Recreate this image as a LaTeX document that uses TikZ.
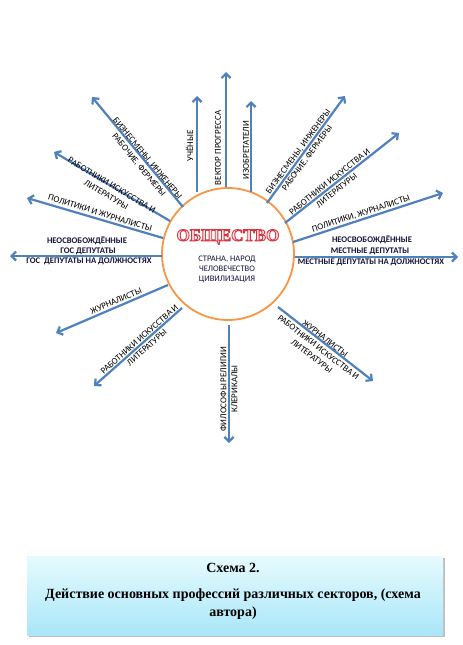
\documentclass[tikz,border=0pt]{standalone}
\usepackage{fontspec}
\setmainfont{Liberation Serif}
\newfontfamily\lblfam{Carlito}
\usetikzlibrary{arrows.meta}
\definecolor{arrblue}{HTML}{4F81BD}
\definecolor{ringorange}{HTML}{F79646}
\definecolor{societyred}{HTML}{D9343F}
\definecolor{navytext}{HTML}{14143C}
\definecolor{captop}{HTML}{E6FBFE}
\definecolor{capbot}{HTML}{A9E6F8}
\definecolor{softpink}{HTML}{FBE4E6}
\newcommand{\outlinedword}[1]{\special{pdf:literal direct 2 Tr 0.9 w 0.851 0.204 0.247 RG}#1\special{pdf:literal direct 0 Tr}}
\tikzset{
  arr/.style={draw=arrblue, line width=2.2pt, -{Straight Barb[length=4.5pt,width=9pt]}},
  lbl/.style={font=\lblfam\fontsize{9}{11}\selectfont, align=center, inner sep=0pt, text=black},
  hlbl/.style={font=\lblfam\bfseries\fontsize{8.6}{10}\selectfont, inner sep=0pt, text=navytext},
  ctext/.style={font=\lblfam\fontsize{8.5}{10}\selectfont, inner sep=0pt, text=navytext},
  captext/.style={font=\bfseries\fontsize{14}{16}\selectfont, inner sep=0pt, text=black}
}
\begin{document}
\begin{tikzpicture}[x=1pt,y=-1pt]
\useasboundingbox[fill=white] (0,0) rectangle (463,645);

% central circle
\node[circle, draw=ringorange, line width=1.8pt, fill=white, minimum size=132pt, inner sep=0pt] (soc) at (228,254) {};
\node[font=\bfseries\fontsize{17}{17}\selectfont, text=softpink, inner sep=0pt] (soct) at (228,237) {\outlinedword{ОБЩЕСТВО}};
\node[ctext] (c1) at (227,259) {СТРАНА, НАРОД};
\node[ctext] (c2) at (227,269) {ЧЕЛОВЕЧЕСТВО};
\node[ctext] (c3) at (227,279) {ЦИВИЛИЗАЦИЯ};

% arrow endpoints
\coordinate (s1) at (183,207);  \coordinate (t1) at (92,97);
\coordinate (s2) at (197,192);  \coordinate (t2) at (197,96);
\coordinate (s3) at (226,187);  \coordinate (t3) at (226,72);
\coordinate (s4) at (251,192);  \coordinate (t4) at (251,101);
\coordinate (s5) at (267,203);  \coordinate (t5) at (345,96);
\coordinate (s6) at (285,223);  \coordinate (t6) at (399,133);
\coordinate (s7) at (293,242);  \coordinate (t7) at (443,193);
\coordinate (s8) at (295,257);  \coordinate (t8) at (458,257);
\coordinate (s9) at (278,307);  \coordinate (t9) at (373,381);
\coordinate (s10) at (229,325); \coordinate (t10) at (229,443);
\coordinate (s11) at (182,308); \coordinate (t11) at (94,386);
\coordinate (s12) at (168,285); \coordinate (t12) at (56,333);
\coordinate (s13) at (162,256); \coordinate (t13) at (10,256);
\coordinate (s14) at (163,238); \coordinate (t14) at (27,198);
\coordinate (s15) at (170,221); \coordinate (t15) at (54,152);

\foreach \i in {1,...,15}{\draw[arr] (s\i) -- (t\i);}

% labels
\node[lbl, rotate=-50.4] (l1) at (143,162) {БИЗНЕСМЕНЫ, ИНЖЕНЕРЫ\\РАБОЧИЕ, ФЕРМЕРЫ};
\node[lbl, rotate=90] (l2) at (189.5,146) {УЧЁНЫЕ};
\node[lbl, rotate=90] (l3) at (218,148) {ВЕКТОР ПРОГРЕССА};
\node[lbl, rotate=90] (l4) at (246,150) {ИЗОБРЕТАТЕЛИ};
\node[lbl, rotate=53.6] (l5) at (303,155) {БИЗНЕСМЕНЫ, ИНЖЕНЕРЫ\\РАБОЧИЕ, ФЕРМЕРЫ};
\node[lbl, rotate=38.5] (l6) at (333,186) {РАБОТНИКИ ИСКУССТВА И\\ЛИТЕРАТУРЫ};
\node[lbl, rotate=18] (l7) at (361,214) {ПОЛИТИКИ, ЖУРНАЛИСТЫ};
\node[hlbl] (l8a) at (372,240) {НЕОСВОБОЖДЁННЫЕ};
\node[hlbl] (l8b) at (370,251) {МЕСТНЫЕ ДЕПУТАТЫ};
\node[hlbl] (l8c) at (371,262) {МЕСТНЫЕ ДЕПУТАТЫ НА ДОЛЖНОСТЯХ};
\node[lbl, rotate=-37.8] (l9) at (318.5,347.5) {ЖУРНАЛИСТЫ\\РАБОТНИКИ ИСКУССТВА И\\ЛИТЕРАТУРЫ};
\node[lbl, rotate=90] (l10) at (229,389) {ФИЛОСОФЫ РЕЛИГИИ\\КЛЕРИКАЛЫ};
\node[lbl, rotate=41.5] (l11) at (143,343.5) {РАБОТНИКИ ИСКУССТВА И\\ЛИТЕРАТУРЫ};
\node[lbl, rotate=23] (l12) at (116,301) {ЖУРНАЛИСТЫ};
\node[hlbl] (l13a) at (87,241) {НЕОСВОБОЖДЁННЫЕ};
\node[hlbl] (l13b) at (88,251) {ГОС ДЕПУТАТЫ};
\node[hlbl] (l13c) at (89,261) {ГОС\ \ ДЕПУТАТЫ НА ДОЛЖНОСТЯХ};
\node[lbl, rotate=-17] (l14) at (100,213) {ПОЛИТИКИ И ЖУРНАЛИСТЫ};
\node[lbl, rotate=-31] (l15) at (109,190) {РАБОТНИКИ ИСКУССТВА И\\ЛИТЕРАТУРЫ};

% caption box
\fill[black!25] (29,558) rectangle (445,637);
\shade[top color=captop, bottom color=capbot] (27,556) rectangle (443,635);
\node[captext] (cap1) at (233,568) {Схема 2.};
\node[captext] (cap2) at (233,595) {Действие основных профессий различных секторов, (схема};
\node[captext] (cap3) at (233,613) {автора)};
\end{tikzpicture}
\end{document}
